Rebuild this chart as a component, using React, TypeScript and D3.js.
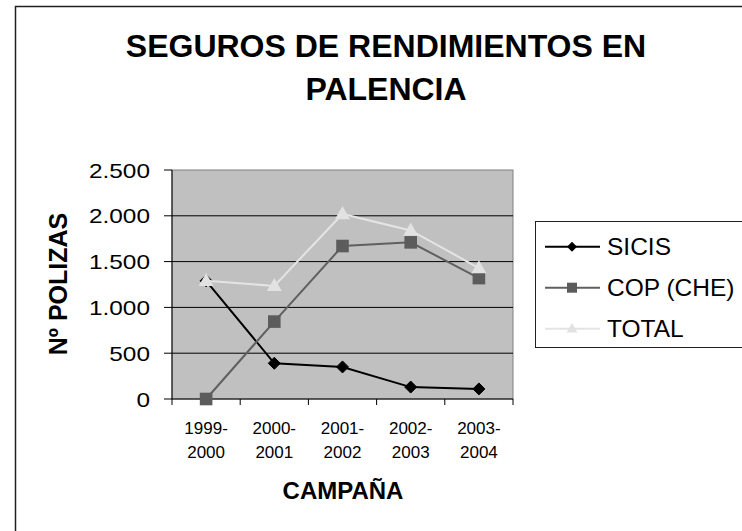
import React from "react";
import * as d3 from "d3";

const categories = ["1999-2000", "2000-2001", "2001-2002", "2002-2003", "2003-2004"];
const sicis = [1290, 390, 350, 130, 110];
const cop = [0, 845, 1670, 1710, 1320];
const total = [1290, 1235, 2020, 1840, 1430];
const yTicks = [0, 500, 1000, 1500, 2000, 2500];
const seriesNames = ["SICIS", "COP (CHE)", "TOTAL"];

const W = 742;
const H = 531;
const plot = { left: 172, right: 513, top: 170, bottom: 399 };

const locale = d3.formatLocale({ decimal: ",", thousands: ".", grouping: [3], currency: ["", "€"] });
const fmt = locale.format(",d");

type Marker = "diamond" | "square" | "triangle";

function markerPath(kind: Marker, r: number) {
  if (kind === "diamond") {
    const p = d3.path();
    p.moveTo(0, -r);
    p.lineTo(r, 0);
    p.lineTo(0, r);
    p.lineTo(-r, 0);
    p.closePath();
    return p.toString();
  }
  if (kind === "square") {
    const p = d3.path();
    p.rect(-r, -r, 2 * r, 2 * r);
    return p.toString();
  }
  const h = r * 1.75;
  const p = d3.path();
  p.moveTo(0, -h * 0.6);
  p.lineTo(r, h * 0.4);
  p.lineTo(-r, h * 0.4);
  p.closePath();
  return p.toString();
}

export default function App() {
  const x = d3.scaleBand<string>().domain(categories).range([plot.left, plot.right]).padding(0);
  const y = d3.scaleLinear().domain([0, 2500]).range([plot.bottom, plot.top]);
  const cx = (c: string) => (x(c) as number) + x.bandwidth() / 2;

  const series = [
    { name: seriesNames[0], values: sicis, stroke: "#000000", fill: "#000000", marker: "diamond" as Marker, r: 6, lr: 5 },
    { name: seriesNames[1], values: cop, stroke: "#606060", fill: "#5c5c5c", marker: "square" as Marker, r: 6.3, lr: 5 },
    { name: seriesNames[2], values: total, stroke: "#e4e4e4", fill: "#e2e2e2", marker: "triangle" as Marker, r: 7.5, lr: 5.5 },
  ];

  const line = d3
    .line<number>()
    .x((_, i) => cx(categories[i]))
    .y((v) => y(v));

  const boundaries = [...categories.map((c) => x(c) as number), plot.right];

  return (
    <svg width={W} height={H} style={{ position: "absolute", left: 0, top: 0, background: "#ffffff" }} fontFamily="'Liberation Sans', Arial, sans-serif">
      <rect x={0} y={0} width={W} height={H} fill="#ffffff" />
      {/* outer chart border */}
      <rect x={15.5} y={6.5} width={W + 20} height={H + 20} fill="none" stroke="#202020" strokeWidth={1.5} />

      {/* Title */}
      <text x={386} y={57} textAnchor="middle" fontSize={32} fontWeight="bold" fill="#000">SEGUROS DE RENDIMIENTOS EN</text>
      <text x={386} y={100} textAnchor="middle" fontSize={32} fontWeight="bold" fill="#000">PALENCIA</text>

      {/* plot area */}
      <rect x={plot.left} y={plot.top} width={plot.right - plot.left} height={plot.bottom - plot.top} fill="#c0c0c0" stroke="#808080" strokeWidth={1} />
      {yTicks.slice(1, -1).map((t) => (
        <line key={t} x1={plot.left} x2={plot.right} y1={y(t)} y2={y(t)} stroke="#000" strokeWidth={1} />
      ))}
      {/* axes */}
      <line x1={plot.left} x2={plot.left} y1={plot.top} y2={plot.bottom} stroke="#000" strokeWidth={1} />
      <line x1={plot.left} x2={plot.right} y1={plot.bottom} y2={plot.bottom} stroke="#000" strokeWidth={1} />
      {yTicks.map((t) => (
        <g key={t}>
          <line x1={plot.left - 8} x2={plot.left} y1={y(t)} y2={y(t)} stroke="#000" strokeWidth={1} />
          <g transform={`translate(150,${y(t) + 7.5}) scale(1.22,1)`}>
            <text x={0} y={0} textAnchor="end" fontSize={20} fill="#000">{fmt(t)}</text>
          </g>
        </g>
      ))}
      {boundaries.map((b, i) => (
        <line key={i} x1={b} x2={b} y1={plot.bottom} y2={plot.bottom + 6} stroke="#000" strokeWidth={1} />
      ))}
      {categories.map((c) => {
        const [a, b] = c.split("-");
        return (
          <g key={c}>
            <text x={cx(c)} y={433.5} textAnchor="middle" fontSize={17} fill="#000">{a + "-"}</text>
            <text x={cx(c)} y={457.5} textAnchor="middle" fontSize={17} fill="#000">{b}</text>
          </g>
        );
      })}

      {/* axis titles */}
      <text x={343} y={499} textAnchor="middle" fontSize={24} fontWeight="bold" fill="#000">CAMPAÑA</text>
      <text transform="translate(67,284) rotate(-90)" textAnchor="middle" fontSize={25} fontWeight="bold" fill="#000">Nº POLIZAS</text>

      {/* series */}
      {series.map((s) => (
        <g key={s.name}>
          <path d={line(s.values) as string} fill="none" stroke={s.stroke} strokeWidth={2} />
          {s.values.map((v, i) => (
            <path key={i} d={markerPath(s.marker, s.r)} transform={`translate(${cx(categories[i])},${y(v)})`} fill={s.fill} stroke={s.marker === "diamond" ? "#000" : "none"} strokeWidth={1} />
          ))}
        </g>
      ))}

      {/* legend */}
      <rect x={535.5} y={221.5} width={260} height={126} fill="#ffffff" stroke="#202020" strokeWidth={1} />
      {series.map((s, i) => {
        const ly = 246.7 + i * 41;
        return (
          <g key={s.name}>
            <line x1={545} x2={600} y1={ly} y2={ly} stroke={s.stroke} strokeWidth={2} />
            <path d={markerPath(s.marker, s.lr)} transform={`translate(572,${ly})`} fill={s.fill} />
            <text x={607} y={ly + 8.5} fontSize={24.5} fill="#000">{s.name}</text>
          </g>
        );
      })}
    </svg>
  );
}
